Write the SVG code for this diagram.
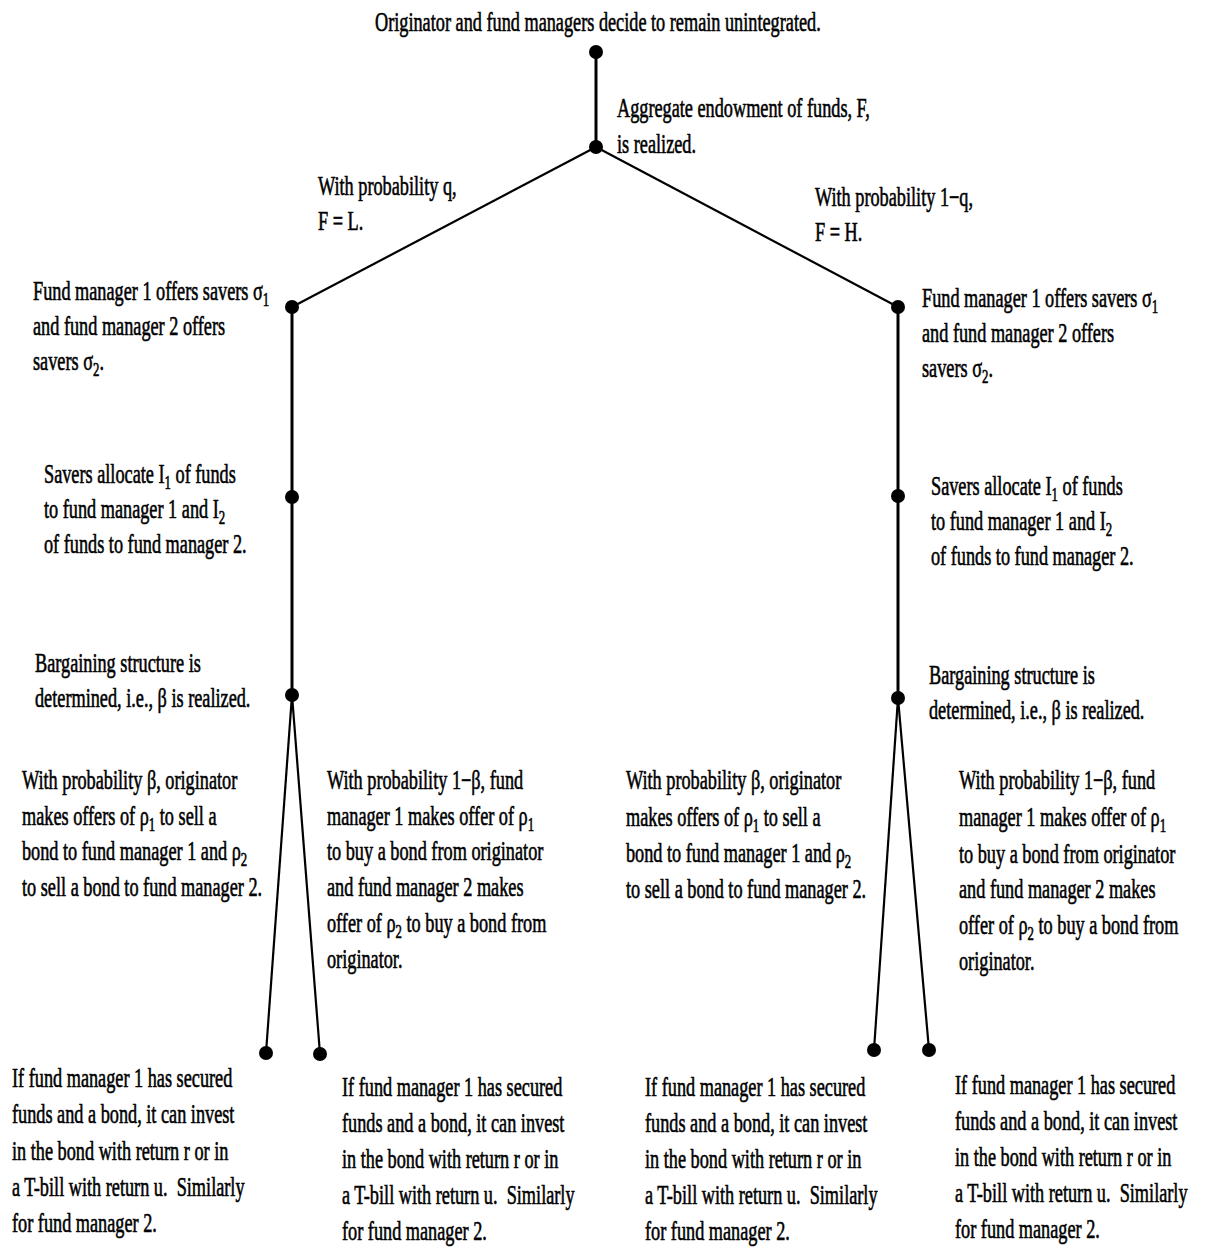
<svg xmlns="http://www.w3.org/2000/svg" width="1205" height="1247" viewBox="0 0 1205 1247">
<style>
text { font-family: "Liberation Serif", "Times New Roman", serif; font-size: 27px; fill: #000; stroke: #000; stroke-width: 0.6; }
.sub { font-size: 19px; }
.edge { stroke: #000; stroke-width: 2.2; fill: none; }
.trunk { stroke-width: 3; }
.dot { fill: #000; }
</style>
<rect width="1205" height="1247" fill="#fff"/>

<g id="connectors">
  <path class="edge trunk" d="M596 52 V147"/>
  <path class="edge" d="M596 147 L292 307"/>
  <path class="edge" d="M596 147 L898 307"/>
  <path class="edge trunk" d="M292 307 V695"/>
  <path class="edge trunk" d="M898 307 V698"/>
  <path class="edge" d="M292 695 L266 1053"/>
  <path class="edge" d="M292 695 L320 1054"/>
  <path class="edge" d="M898 698 L874 1050"/>
  <path class="edge" d="M898 698 L929 1050"/>
</g>

<g id="n-root">
  <circle class="dot" cx="596" cy="52" r="7"/>
  <g transform="translate(375,0) scale(0.676,1)"><text x="0" y="31">Originator and fund managers decide to remain unintegrated.</text></g>
</g>

<g id="n-endowment">
  <circle class="dot" cx="596" cy="147" r="7"/>
  <g transform="translate(617,0) scale(0.676,1)">
    <text x="0" y="117">Aggregate endowment of funds, F,</text>
    <text x="0" y="153">is realized.</text>
  </g>
</g>

<g id="lbl-q">
  <g transform="translate(318,0) scale(0.676,1)">
    <text x="0" y="195">With probability q,</text>
    <text x="0" y="230">F = L.</text>
  </g>
</g>
<g id="lbl-1q">
  <g transform="translate(815,0) scale(0.676,1)">
    <text x="0" y="206">With probability 1−q,</text>
    <text x="0" y="241">F = H.</text>
  </g>
</g>

<g id="n-L-offer">
  <circle class="dot" cx="292" cy="307" r="7"/>
  <g transform="translate(33,0) scale(0.676,1)">
    <text x="0" y="300">Fund manager 1 offers savers σ<tspan class="sub" dy="6">1</tspan></text>
    <text x="0" y="335">and fund manager 2 offers</text>
    <text x="0" y="370">savers σ<tspan class="sub" dy="6">2</tspan><tspan dy="-6">.</tspan></text>
  </g>
</g>
<g id="n-L-alloc">
  <circle class="dot" cx="292" cy="497" r="7"/>
  <g transform="translate(44,0) scale(0.676,1)">
    <text x="0" y="483">Savers allocate I<tspan class="sub" dy="6">1</tspan><tspan dy="-6"> of funds</tspan></text>
    <text x="0" y="518">to fund manager 1 and I<tspan class="sub" dy="6">2</tspan></text>
    <text x="0" y="553">of funds to fund manager 2.</text>
  </g>
</g>
<g id="n-L-bargain">
  <circle class="dot" cx="292" cy="695" r="7"/>
  <g transform="translate(35,0) scale(0.676,1)">
    <text x="0" y="672">Bargaining structure is</text>
    <text x="0" y="707">determined, i.e., β is realized.</text>
  </g>
</g>

<g id="n-R-offer">
  <circle class="dot" cx="898" cy="307" r="7"/>
  <g transform="translate(922,0) scale(0.676,1)">
    <text x="0" y="307">Fund manager 1 offers savers σ<tspan class="sub" dy="6">1</tspan></text>
    <text x="0" y="342">and fund manager 2 offers</text>
    <text x="0" y="377">savers σ<tspan class="sub" dy="6">2</tspan><tspan dy="-6">.</tspan></text>
  </g>
</g>
<g id="n-R-alloc">
  <circle class="dot" cx="898" cy="496" r="7"/>
  <g transform="translate(931,0) scale(0.676,1)">
    <text x="0" y="495">Savers allocate I<tspan class="sub" dy="6">1</tspan><tspan dy="-6"> of funds</tspan></text>
    <text x="0" y="530">to fund manager 1 and I<tspan class="sub" dy="6">2</tspan></text>
    <text x="0" y="565">of funds to fund manager 2.</text>
  </g>
</g>
<g id="n-R-bargain">
  <circle class="dot" cx="898" cy="698" r="7"/>
  <g transform="translate(929,0) scale(0.676,1)">
    <text x="0" y="684">Bargaining structure is</text>
    <text x="0" y="719">determined, i.e., β is realized.</text>
  </g>
</g>

<g id="lbl-LL">
  <g transform="translate(22,0) scale(0.676,1)">
    <text x="0" y="789">With probability β, originator</text>
    <text x="0" y="825">makes offers of ρ<tspan class="sub" dy="6">1</tspan><tspan dy="-6"> to sell a</tspan></text>
    <text x="0" y="860">bond to fund manager 1 and ρ<tspan class="sub" dy="6">2</tspan></text>
    <text x="0" y="896">to sell a bond to fund manager 2.</text>
  </g>
</g>
<g id="lbl-LR">
  <g transform="translate(327,0) scale(0.676,1)">
    <text x="0" y="789">With probability 1−β, fund</text>
    <text x="0" y="825">manager 1 makes offer of ρ<tspan class="sub" dy="6">1</tspan></text>
    <text x="0" y="860">to buy a bond from originator</text>
    <text x="0" y="896">and fund manager 2 makes</text>
    <text x="0" y="932">offer of ρ<tspan class="sub" dy="6">2</tspan><tspan dy="-6"> to buy a bond from</tspan></text>
    <text x="0" y="968">originator.</text>
  </g>
</g>
<g id="lbl-RL">
  <g transform="translate(626,0) scale(0.676,1)">
    <text x="0" y="789">With probability β, originator</text>
    <text x="0" y="826">makes offers of ρ<tspan class="sub" dy="6">1</tspan><tspan dy="-6"> to sell a</tspan></text>
    <text x="0" y="862">bond to fund manager 1 and ρ<tspan class="sub" dy="6">2</tspan></text>
    <text x="0" y="898">to sell a bond to fund manager 2.</text>
  </g>
</g>
<g id="lbl-RR">
  <g transform="translate(959,0) scale(0.676,1)">
    <text x="0" y="789">With probability 1−β, fund</text>
    <text x="0" y="826">manager 1 makes offer of ρ<tspan class="sub" dy="6">1</tspan></text>
    <text x="0" y="863">to buy a bond from originator</text>
    <text x="0" y="898">and fund manager 2 makes</text>
    <text x="0" y="934">offer of ρ<tspan class="sub" dy="6">2</tspan><tspan dy="-6"> to buy a bond from</tspan></text>
    <text x="0" y="970">originator.</text>
  </g>
</g>

<g id="n-leaf-LL">
  <circle class="dot" cx="266" cy="1053" r="7"/>
  <g transform="translate(12,0) scale(0.676,1)">
    <text x="0" y="1087">If fund manager 1 has secured</text>
    <text x="0" y="1123">funds and a bond, it can invest</text>
    <text x="0" y="1160">in the bond with return r or in</text>
    <text x="0" y="1196">a T-bill with return u.&#160; Similarly</text>
    <text x="0" y="1232">for fund manager 2.</text>
  </g>
</g>
<g id="n-leaf-LR">
  <circle class="dot" cx="320" cy="1054" r="7"/>
  <g transform="translate(342,0) scale(0.676,1)">
    <text x="0" y="1096">If fund manager 1 has secured</text>
    <text x="0" y="1132">funds and a bond, it can invest</text>
    <text x="0" y="1168">in the bond with return r or in</text>
    <text x="0" y="1204">a T-bill with return u.&#160; Similarly</text>
    <text x="0" y="1240">for fund manager 2.</text>
  </g>
</g>
<g id="n-leaf-RL">
  <circle class="dot" cx="874" cy="1050" r="7"/>
  <g transform="translate(645,0) scale(0.676,1)">
    <text x="0" y="1096">If fund manager 1 has secured</text>
    <text x="0" y="1132">funds and a bond, it can invest</text>
    <text x="0" y="1168">in the bond with return r or in</text>
    <text x="0" y="1204">a T-bill with return u.&#160; Similarly</text>
    <text x="0" y="1240">for fund manager 2.</text>
  </g>
</g>
<g id="n-leaf-RR">
  <circle class="dot" cx="929" cy="1050" r="7"/>
  <g transform="translate(955,0) scale(0.676,1)">
    <text x="0" y="1094">If fund manager 1 has secured</text>
    <text x="0" y="1130">funds and a bond, it can invest</text>
    <text x="0" y="1166">in the bond with return r or in</text>
    <text x="0" y="1202">a T-bill with return u.&#160; Similarly</text>
    <text x="0" y="1238">for fund manager 2.</text>
  </g>
</g>
</svg>
